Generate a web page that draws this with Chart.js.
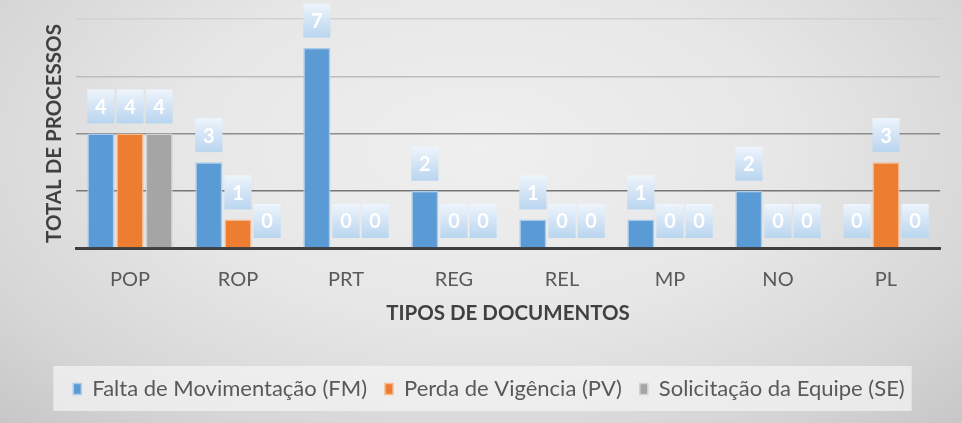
<!DOCTYPE html>
<html>
<head>
<meta charset="utf-8">
<script src="https://cdn.jsdelivr.net/npm/chart.js@4.4.1/dist/chart.umd.min.js"></script>
<style>
  html, body { margin: 0; padding: 0; }
  #wrap {
    width: 962px; height: 423px; position: relative;
    background: radial-gradient(ellipse 70% 90% at 50% 35%, #efefef 0%, #e7e7e7 45%, #d6d6d6 80%, #c8c8c8 100%);
  }
  canvas { display: block; }
</style>
</head>
<body>
<div id="wrap"><canvas id="c" width="962" height="423"></canvas></div>
<script>
const categories = ['POP', 'ROP', 'PRT', 'REG', 'REL', 'MP', 'NO', 'PL'];
const seriesNames = ['Falta de Movimentação (FM)', 'Perda de Vigência (PV)', 'Solicitação da Equipe (SE)'];
const fmValues = [4, 3, 7, 2, 1, 1, 2, 0];
const pvValues = [4, 1, 0, 0, 0, 0, 0, 3];
const seValues = [4, 0, 0, 0, 0, 0, 0, 0];
const yTicks = [0, 2, 4, 6, 8];
const xTitle = 'TIPOS DE DOCUMENTOS';
const yTitle = 'TOTAL DE PROCESSOS';

const FONT = 'Lato, "Open Sans", sans-serif';

const gridColors = { 0: 'rgba(0,0,0,0)', 2: '#767676', 4: '#8e8e8e', 6: '#bdbdbd', 8: '#d2d2d2' };

const valueLabelPlugin = {
  id: 'valueLabels',
  afterDatasetsDraw(chart) {
    const ctx = chart.ctx;
    ctx.save();
    chart.data.datasets.forEach((ds, di) => {
      const meta = chart.getDatasetMeta(di);
      meta.data.forEach((bar, i) => {
        const p = bar.getProps(['x', 'y', 'width'], true);
        const w = p.width;
        const h = 34;
        const bottom = p.y - 10;
        const top = bottom - h;
        const left = p.x - w / 2;
        const g = ctx.createLinearGradient(0, top, 0, bottom);
        g.addColorStop(0, '#eef5fc');
        g.addColorStop(0.5, '#d3e4f5');
        g.addColorStop(1, '#b9d5ef');
        ctx.fillStyle = g;
        ctx.fillRect(left, top, w, h);
        ctx.fillStyle = '#ffffff';
        ctx.font = 'bold 20px ' + FONT;
        ctx.textAlign = 'center';
        ctx.textBaseline = 'middle';
        ctx.fillText(String(ds.data[i]), p.x, top + h / 2 + 1);
      });
    });
    ctx.restore();
  }
};

const legendBoxPlugin = {
  id: 'legendBox',
  beforeDraw(chart) {
    const lg = chart.legend;
    if (!lg || !lg.legendHitBoxes || !lg.legendHitBoxes.length) return;
    const boxes = lg.legendHitBoxes;
    const l = Math.min(...boxes.map(b => b.left)) - 20;
    const r = Math.max(...boxes.map(b => b.left + b.width)) + 7;
    const cy = boxes[0].top + boxes[0].height / 2;
    const ctx = chart.ctx;
    ctx.save();
    ctx.fillStyle = 'rgba(245,245,245,0.7)';
    ctx.fillRect(l, cy - 23, r - l, 45);
    ctx.restore();
  }
};

const legendFitPlugin = {
  id: 'legendFit',
  beforeInit(chart) {
    const orig = chart.legend.fit;
    chart.legend.fit = function () {
      orig.bind(chart.legend)();
      this.height = 45;
    };
  }
};

function borderW(ctx) {
  const v = ctx.raw;
  return v === 0 ? 0 : 1.5;
}

new Chart(document.getElementById('c'), {
  type: 'bar',
  data: {
    labels: categories,
    datasets: [
      { label: seriesNames[0], data: fmValues, backgroundColor: '#5b9bd5', borderColor: '#a9cbec', borderWidth: borderW, borderSkipped: 'bottom' },
      { label: seriesNames[1], data: pvValues, backgroundColor: '#ed7d31', borderColor: '#f7b98f', borderWidth: borderW, borderSkipped: 'bottom' },
      { label: seriesNames[2], data: seValues, backgroundColor: '#a5a5a5', borderColor: '#d2d2d2', borderWidth: borderW, borderSkipped: 'bottom' }
    ]
  },
  options: {
    responsive: false,
    animation: false,
    devicePixelRatio: 1,
    categoryPercentage: 0.81,
    barPercentage: 0.93,
    layout: { padding: { left: 38, right: 22, top: 19, bottom: 18 } },
    plugins: {
      legend: {
        position: 'bottom',
        labels: {
          font: { family: FONT, size: 22 },
          color: '#595959',
          boxWidth: 8,
          boxHeight: 11,
          padding: 18
        }
      },
      tooltip: { enabled: false },
      title: { display: false }
    },
    scales: {
      x: {
        grid: { display: false, drawTicks: false },
        border: { display: true, color: '#3f3f3f', width: 3 },
        ticks: { font: { family: FONT, size: 20 }, color: '#595959', padding: 20 },
        title: { display: true, text: xTitle, font: { family: FONT, size: 20.5, weight: 'bold' }, color: '#404040', padding: { top: 0, bottom: 34 } },
        afterFit(scale) { scale.height = 112; }
      },
      y: {
        min: yTicks[0],
        max: yTicks[yTicks.length - 1],
        afterBuildTicks(scale) { scale.ticks = yTicks.map(v => ({ value: v })); },
        grid: {
          drawTicks: false,
          color: (c) => gridColors[c.tick.value] || '#999',
          lineWidth: 1.5
        },
        border: { display: false },
        ticks: { display: false },
        title: { display: true, text: yTitle, font: { family: FONT, size: 20.5, weight: 'bold' }, color: '#404040', padding: { top: 4, bottom: 0 } },
        afterFit(scale) { scale.width = 38; }
      }
    }
  },
  plugins: [legendFitPlugin, legendBoxPlugin, valueLabelPlugin]
});
</script>
</body>
</html>
